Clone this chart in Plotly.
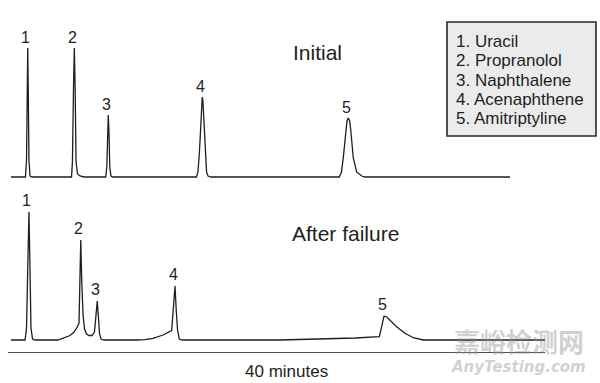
import plotly.graph_objects as go

# ---------------- data ----------------
# time in minutes, detector signal in arbitrary units
initial_time = [0.22,
                1.30, 1.38, 1.43, 1.47, 1.51, 1.56, 1.64, 1.79,
                4.73, 4.80, 4.88, 4.94, 5.00, 5.07, 5.18, 5.36, 5.66,
                7.28, 7.36, 7.42, 7.47, 7.52, 7.58, 7.67, 7.82,
                14.04, 14.15, 14.26, 14.36, 14.42, 14.47, 14.52, 14.58, 14.67, 14.79, 14.90, 15.12,
                24.68, 24.84, 24.98, 25.15, 25.25, 25.35, 25.45, 25.53, 25.72, 25.97, 26.35, 26.59,
                37.39]
initial_signal = [0,
                  0, 17, 87, 129, 87, 17, 1, 0,
                  0, 15, 90, 129, 90, 15, 3, 1, 0,
                  0, 10, 45, 62, 45, 10, 1, 0,
                  0, 5, 25, 60, 76, 80, 76, 60, 25, 5, 1, 0,
                  0, 5, 20, 47, 56, 59, 56, 47, 19, 5, 1, 0,
                  0]

failure_time = [0.22,
                1.27, 1.38, 1.47, 1.56, 1.64, 1.71, 1.83, 2.01,
                3.72, 4.17, 4.62, 4.92, 5.14, 5.29, 5.35, 5.42, 5.49, 5.59, 5.70, 5.85, 6.03,
                6.26, 6.44, 6.54, 6.65, 6.75, 6.82, 6.93, 7.15,
                9.61, 10.20, 10.80, 11.55, 12.19, 12.28, 12.37, 12.44, 12.53, 12.63, 12.76, 12.96,
                20.26, 23.98, 25.85, 27.66, 27.88, 28.01, 28.21, 28.33, 28.60, 28.95, 29.57, 30.19, 30.93,
                40.0]
failure_signal = [0,
                  0, 12, 70, 128, 70, 12, 1, 0,
                  0, 2, 4.5, 8, 12.5, 17, 55, 100, 60, 25, 11, 6, 4.5,
                  4.5, 8, 20, 39, 20, 6, 1, 0,
                  0, 0.3, 1.7, 5, 9.3, 25, 45, 54, 30, 10, 1, 0,
                  0, 1, 2, 3.3, 18, 24, 23, 21.5, 17.5, 13.3, 6.7, 2.3, 0,
                  0]

peak_labels = ["1", "2", "3", "4", "5"]
initial_peak_time = [1.47, 4.94, 7.47, 14.47, 25.35]
initial_peak_height = [129, 129, 62, 80, 59]
failure_peak_time = [1.56, 5.42, 6.65, 12.44, 28.01]
failure_peak_height = [128, 100, 39, 54, 24]

compounds = ["1. Uracil", "2. Propranolol", "3. Naphthalene",
             "4. Acenaphthene", "5. Amitriptyline"]
run_span_minutes = 40

# ---------------- figure ----------------
W, H = 600, 383
FONT = "Liberation Sans, Arial, Helvetica, sans-serif"
INK = "#1e1e1e"

fig = go.Figure()
fig.add_trace(go.Scatter(x=failure_time, y=failure_signal, mode="lines",
                         line=dict(color=INK, width=1.3), yaxis="y",
                         hoverinfo="skip", showlegend=False))
fig.add_trace(go.Scatter(x=initial_time, y=initial_signal, mode="lines",
                         line=dict(color=INK, width=1.3), yaxis="y2",
                         hoverinfo="skip", showlegend=False))

annotations = []
for lab, t, h in zip(peak_labels, initial_peak_time, initial_peak_height):
    annotations.append(dict(x=t, y=h, xref="x", yref="y2", text=lab,
                            showarrow=False, xanchor="center", yanchor="bottom",
                            xshift=-2, yshift=0,
                            font=dict(family=FONT, size=16, color=INK)))
for lab, t, h in zip(peak_labels, failure_peak_time, failure_peak_height):
    annotations.append(dict(x=t, y=h, xref="x", yref="y", text=lab,
                            showarrow=False, xanchor="center", yanchor="bottom",
                            xshift=-2, yshift=1,
                            font=dict(family=FONT, size=16, color=INK)))

annotations.append(dict(x=317 / W, y=1 - 52 / H, xref="paper", yref="paper",
                        text="Initial", showarrow=False, xanchor="center",
                        yanchor="middle", font=dict(family=FONT, size=21, color=INK)))
annotations.append(dict(x=345 / W, y=1 - 233.5 / H, xref="paper", yref="paper",
                        text="After failure", showarrow=False, xanchor="center",
                        yanchor="middle", font=dict(family=FONT, size=21, color=INK)))
annotations.append(dict(x=286 / W, y=1 - 371 / H, xref="paper", yref="paper",
                        text=f"{run_span_minutes} minutes", showarrow=False,
                        xanchor="center", yanchor="middle",
                        font=dict(family=FONT, size=17, color=INK)))

for i, name in enumerate(compounds):
    annotations.append(dict(x=454 / W, y=1 - (41.5 + i * 19.3) / H,
                            xref="paper", yref="paper", text=name,
                            showarrow=False, xanchor="left", yanchor="middle",
                            font=dict(family=FONT, size=17, color=INK)))

# watermark
annotations.append(dict(x=518.5 / W, y=1 - 340.5 / H, xref="paper", yref="paper",
                        text="<b>嘉峪检测网</b>", showarrow=False,
                        xanchor="center", yanchor="middle",
                        font=dict(family="Noto Sans CJK SC", size=26,
                                  color="rgba(150,150,150,0.45)")))
annotations.append(dict(x=518.5 / W, y=1 - 367 / H, xref="paper", yref="paper",
                        text="<b><i>AnyTesting.com</i></b>", showarrow=False,
                        xanchor="center", yanchor="middle",
                        font=dict(family="DejaVu Sans", size=15,
                                  color="rgba(150,150,150,0.45)")))

shapes = [dict(type="rect", xref="paper", yref="paper",
               x0=447 / W, x1=596 / W, y0=1 - 136 / H, y1=1 - 22 / H,
               fillcolor="#ebebeb", line=dict(color="#2a2a2a", width=1.6),
               layer="below")]

fig.update_layout(
    width=W, height=H,
    margin=dict(l=0, r=0, t=0, b=0),
    paper_bgcolor="white", plot_bgcolor="white",
    xaxis=dict(domain=[8 / W, 545 / W], range=[0, run_span_minutes],
               anchor="free", position=1 - 351.7 / H,
               showline=True, linecolor="#505050", linewidth=1.6,
               showgrid=False, zeroline=False, showticklabels=False, ticks=""),
    yaxis=dict(domain=[0, 1], range=[-(H - 340), 340], visible=False),
    yaxis2=dict(domain=[0, 1], range=[-(H - 177), 177], overlaying="y",
                visible=False),
    annotations=annotations,
    shapes=shapes,
    showlegend=False,
)

fig.write_html("out.html",
               config={"displayModeBar": False, "staticPlot": True},
               post_script="document.body.style.margin='0';"
                           "document.body.style.overflow='hidden';")
